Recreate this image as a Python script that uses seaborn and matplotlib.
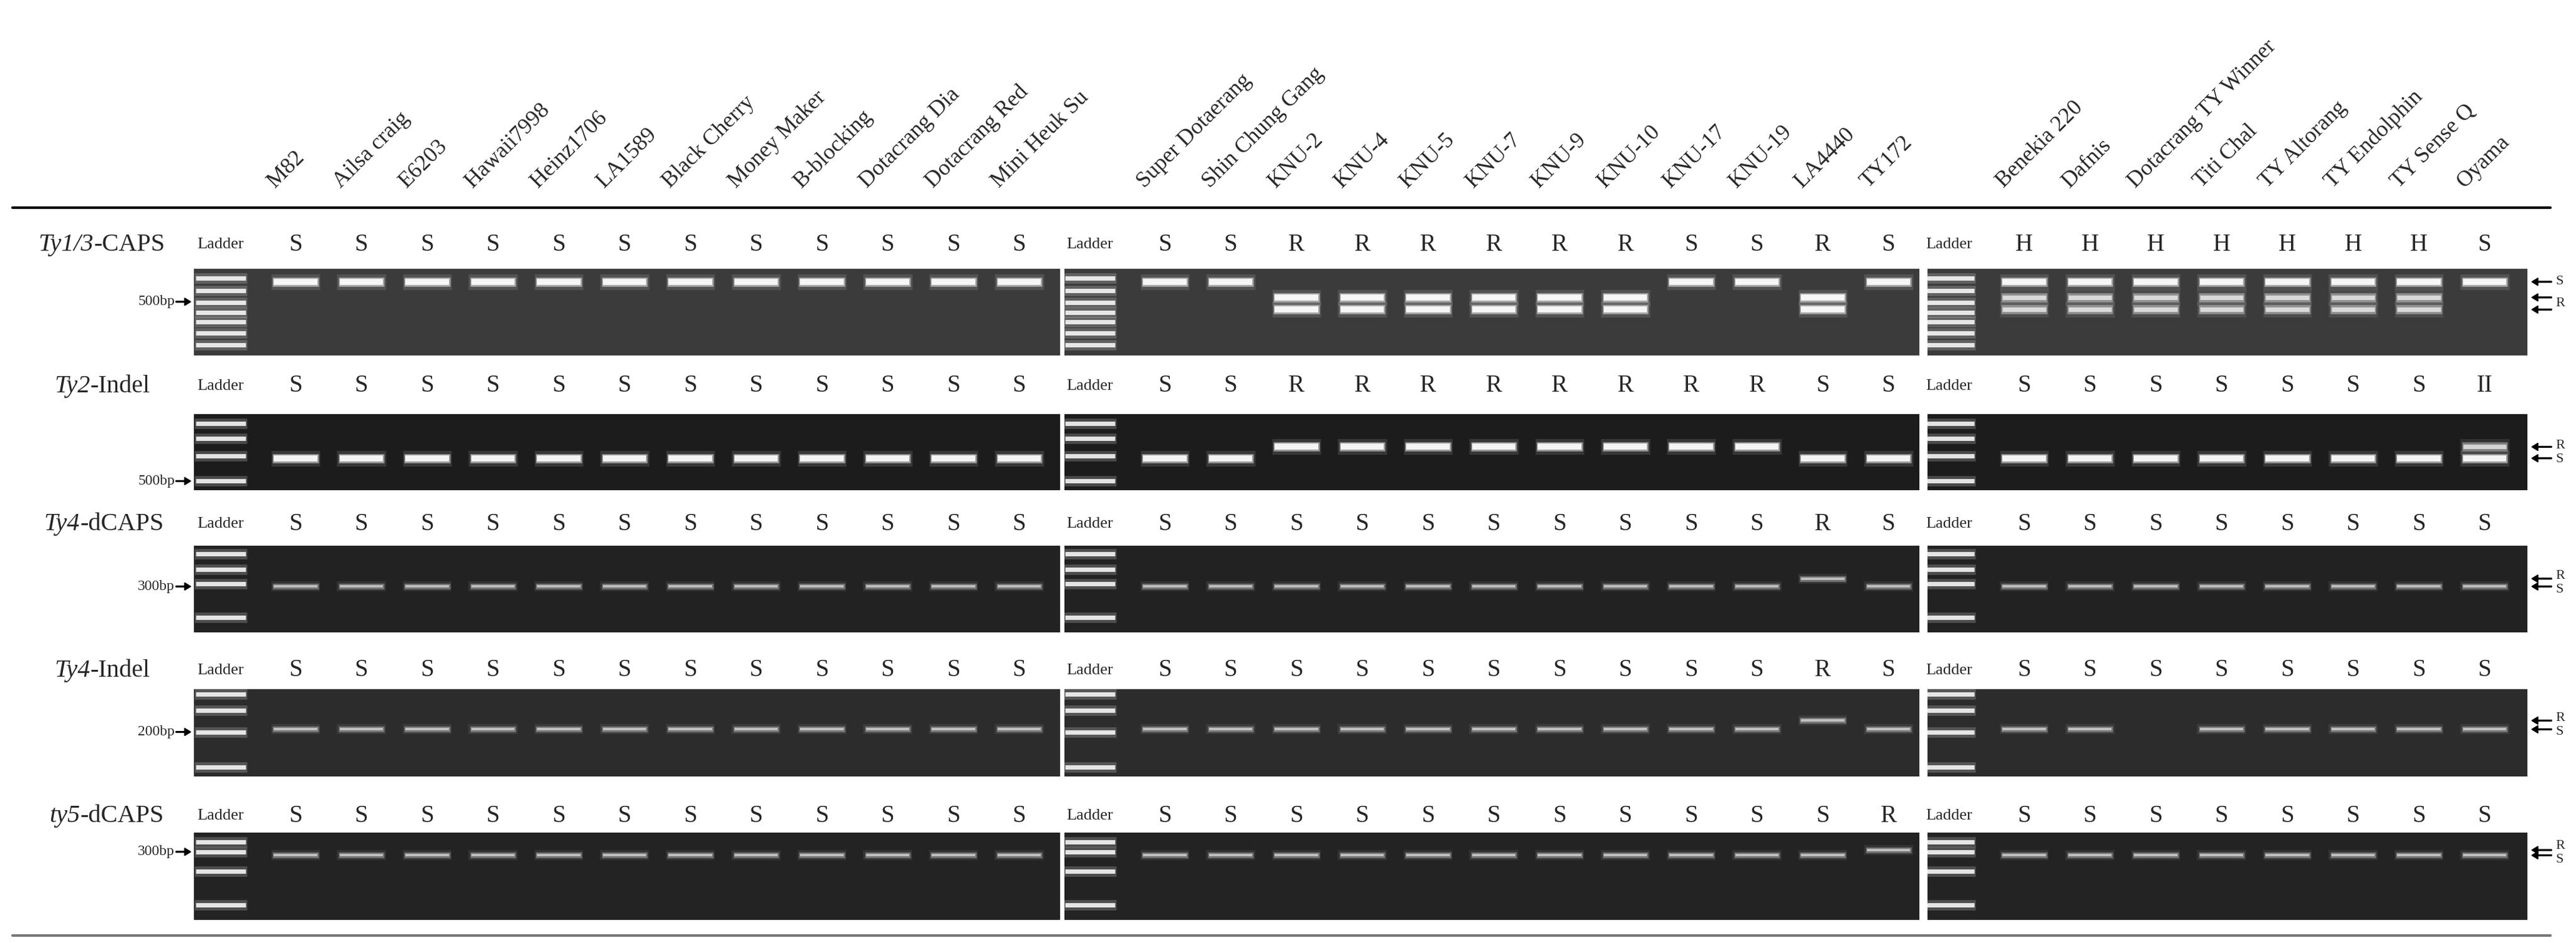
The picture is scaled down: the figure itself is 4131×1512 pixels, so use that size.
import matplotlib
matplotlib.use("Agg")
import matplotlib.pyplot as plt
import seaborn as sns
import pandas as pd

sns.set_theme(style="white")
plt.rcParams['font.family'] = ['Liberation Serif', 'DejaVu Serif']

W, H = 4131, 1512
# ---------------- data ----------------
panel1_names = ["M82", "Ailsa craig", "E6203", "Hawaii7998", "Heinz1706", "LA1589", "Black Cherry",
                "Money Maker", "B-blocking", "Dotacrang Dia", "Dotacrang Red", "Mini Heuk Su"]
panel2_names = ["Super Dotaerang", "Shin Chung Gang", "KNU-2", "KNU-4", "KNU-5", "KNU-7", "KNU-9",
                "KNU-10", "KNU-17", "KNU-19", "LA4440", "TY172"]
panel3_names = ["Benekia 220", "Dafnis", "Dotacrang TY Winner", "Titi Chal", "TY Altorang",
                "TY Endolphin", "TY Sense Q", "Oyama"]
marker_gene = ["Ty1/3", "Ty2", "Ty4", "Ty4", "ty5"]
marker_type = ["-CAPS", "-Indel", "-dCAPS", "-Indel", "-dCAPS"]
size_labels = ["500bp", "500bp", "300bp", "200bp", "300bp"]
size_pos = [0.38, 0.88, 0.47, 0.49, 0.22]

geno_p1 = [["S"] * 12] * 5
geno_p2 = [list("SSRRRRRRSSRS"), list("SSRRRRRRRRSS"), list("SSSSSSSSSSRS"),
           list("SSSSSSSSSSRS"), list("SSSSSSSSSSSR")]
geno_p3 = [list("HHHHHHHS"), list("SSSSSSSH"), list("SSSSSSSS"), list("SSSSSSSS"), list("SSSSSSSS")]
geno_text_p3 = [list("HHHHHHHS"), list("SSSSSSS") + ["II"], list("SSSSSSSS"),
                list("SSSSSSSS"), list("SSSSSSSS")]

# relative band migration (0 = top of gel, 1 = bottom) for S and R alleles per marker
band_S = [[0.15], [0.58], [0.47], [0.46], [0.26]]
band_R = [[0.33, 0.47], [0.43], [0.38], [0.36], [0.20]]
band_int = [1.0, 1.0, 0.62, 0.62, 0.62]
ladder_bands = [[0.11, 0.25, 0.39, 0.50, 0.61, 0.74, 0.88],
                [0.12, 0.32, 0.55, 0.88],
                [0.09, 0.27, 0.44, 0.83],
                [0.06, 0.24, 0.49, 0.89],
                [0.11, 0.22, 0.44, 0.83]]
gel_bg = ["#3b3b3b", "#1c1c1c", "#222222", "#2c2c2c", "#232323"]
missing = {(3, 2, 2)}   # (row, panel, lane) with no visible band

# ---------------- layout ----------------
row_label_y = [392, 619, 840, 1075, 1308]
gene_right_x = [150, 145, 128, 145, 128]
gel_top = [431, 664, 875, 1105, 1335]
gel_bot = [570, 786, 1014, 1245, 1475]
panels_x = [(311, 1700, 474), (1707, 3078, 1868), (3091, 4053, 3246)]
SP = 105.5
ladder_lane = -0.14
band_lw = [7, 7, 4.5, 4.5, 4.5]

fig = plt.figure(figsize=(W / 100, H / 100), dpi=100)
fig.patch.set_facecolor("white")

def fx(x): return x / W
def fy(y): return 1 - y / H

names_all = [panel1_names, panel2_names, panel3_names]
geno_all = [geno_p1, geno_p2, geno_p3]

rows = []
for r in range(5):
    for p in range(3):
        for i, g in enumerate(geno_all[p][r]):
            if (r, p, i) in missing:
                continue
            ys = {"S": band_S[r], "R": band_R[r], "H": band_S[r] + band_R[r]}[g]
            for y in ys:
                rows.append(dict(row=r, panel=p, lane=i + 1, y=y,
                                 inten=band_int[r] * (0.75 if g == "H" and y in band_R[r] else 1.0)))
bands = pd.DataFrame(rows)

for r in range(5):
    for p, (x0, x1, l1) in enumerate(panels_x):
        ax = fig.add_axes([fx(x0), fy(gel_bot[r]), fx(x1 - x0), (gel_bot[r] - gel_top[r]) / H])
        ax.set_facecolor(gel_bg[r])
        ax.set_xlim((x0 - l1) / SP + 1, (x1 - l1) / SP + 1)
        ax.set_ylim(1, 0)
        ax.set_xticks([]); ax.set_yticks([])
        for s in ax.spines.values():
            s.set_visible(False)
        # ladder
        for yb in ladder_bands[r]:
            ax.hlines(yb, ladder_lane - 0.4, ladder_lane + 0.4, color="white", lw=12, alpha=0.2)
            ax.hlines(yb, ladder_lane - 0.38, ladder_lane + 0.38, color="white", lw=5, alpha=0.85)
        sub = bands[(bands.row == r) & (bands.panel == p)]
        lw = band_lw[r]
        for _, b in sub.iterrows():
            a = b.inten
            ax.hlines(b.y, b.lane - 0.37, b.lane + 0.37, color="white", lw=lw * 2.6, alpha=0.12 * a)
            ax.hlines(b.y, b.lane - 0.35, b.lane + 0.35, color="white", lw=lw * 1.5, alpha=0.5 * a)
            ax.hlines(b.y, b.lane - 0.33, b.lane + 0.33, color="white", lw=lw * a, alpha=0.9 * a)
        # genotype labels
        txts = geno_text_p3[r] if p == 2 else geno_all[p][r]
        for i, g in enumerate(txts):
            fig.text(fx(l1 + i * SP), fy(row_label_y[r]), g, ha="center", va="center", fontsize=28)
        fig.text(fx(l1 + (ladder_lane - 1) * SP), fy(row_label_y[r]), "Ladder", ha="center", va="center", fontsize=19)
        # column names
        if r == 0:
            for i, n in enumerate(names_all[p]):
                fig.text(fx(l1 + i * SP - 27), fy(308), n, rotation=45, rotation_mode="anchor",
                         ha="left", va="bottom", fontsize=26)
    # row label (italic gene + upright type) + size marker
    t1 = fig.text(fx(gene_right_x[r]), fy(row_label_y[r] + 10), marker_gene[r], ha="right", va="baseline",
                  fontsize=29, fontstyle="italic")
    fig.add_artist(matplotlib.text.Annotation(marker_type[r], xy=(1, 0), xycoords=t1, va="bottom",
                                              ha="left", fontsize=29))
    ysz = gel_top[r] + size_pos[r] * (gel_bot[r] - gel_top[r])
    fig.text(fx(280), fy(ysz), size_labels[r], ha="right", va="center", fontsize=17)
    fig.patches.append(matplotlib.patches.FancyArrow(fx(282), fy(ysz), fx(24), 0, width=0.0012,
                       head_width=0.008, head_length=fx(10), length_includes_head=True,
                       color="black", transform=fig.transFigure, figure=fig))
    # allele markers at right
    x_ar = 4058
    ymarks = {}
    for lab, ys in [("S", band_S[r]), ("R", band_R[r])]:
        yy = [gel_top[r] + v * (gel_bot[r] - gel_top[r]) for v in ys]
        for yv in yy:
            fig.patches.append(matplotlib.patches.FancyArrow(fx(x_ar + 34), fy(yv), -fx(32), 0, width=0.0012,
                               head_width=0.008, head_length=fx(10), length_includes_head=True,
                               color="black", transform=fig.transFigure, figure=fig))
        ymarks[lab] = sum(yy) / len(yy)
    if abs(ymarks["S"] - ymarks["R"]) < 22:
        mid = (ymarks["S"] + ymarks["R"]) / 2
        sgn = 1 if ymarks["S"] > ymarks["R"] else -1
        ymarks["S"] = mid + sgn * 11
        ymarks["R"] = mid - sgn * 11
    for lab, yv in ymarks.items():
        fig.text(fx(x_ar + 40), fy(yv), lab, ha="left", va="center", fontsize=16)

fig.add_artist(plt.Line2D([fx(20), fx(4090)], [fy(333), fy(333)], color="black", lw=3, transform=fig.transFigure))
fig.add_artist(plt.Line2D([fx(20), fx(4090)], [fy(1500), fy(1500)], color="#777777", lw=3, transform=fig.transFigure))

fig.savefig("out.png", dpi=100, facecolor="white")
